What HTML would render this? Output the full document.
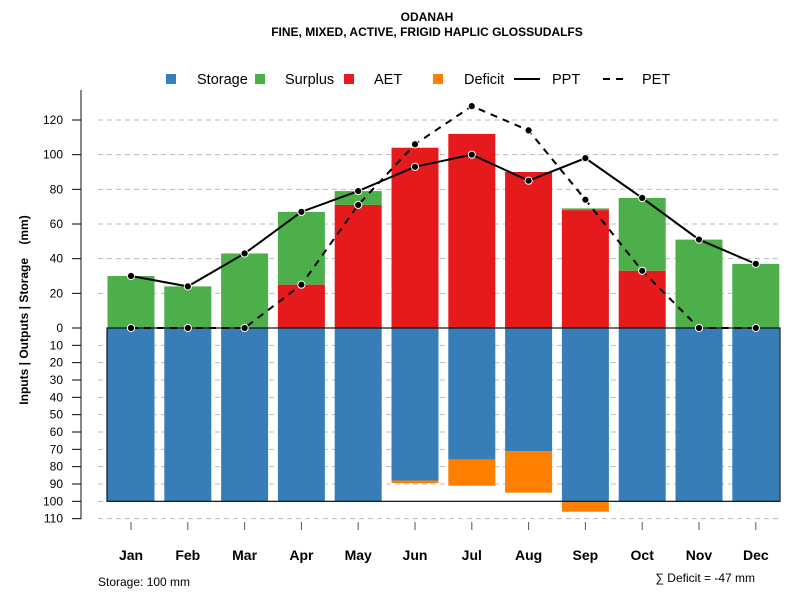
<!DOCTYPE html>
<html><head><meta charset="utf-8"><style>body{margin:0;background:#fff}svg{display:block;font-family:"Liberation Sans",Arial,sans-serif}</style></head>
<body>
<svg id="s" width="800" height="600" xmlns="http://www.w3.org/2000/svg">
<text x="427" y="21" font-size="12" font-weight="bold" text-anchor="middle">ODANAH</text>
<text x="427" y="36" font-size="12" font-weight="bold" text-anchor="middle">FINE, MIXED, ACTIVE, FRIGID HAPLIC GLOSSUDALFS</text>
<g font-size="14.5">
<rect x="166" y="74" width="10" height="10" fill="#377eb8"/><text x="197" y="84">Storage</text>
<rect x="255" y="74" width="10" height="10" fill="#4daf4a"/><text x="285" y="84">Surplus</text>
<rect x="344" y="74" width="10" height="10" fill="#e41a1c"/><text x="374" y="84">AET</text>
<rect x="433" y="74" width="10" height="10" fill="#ff7f00"/><text x="464" y="84">Deficit</text>
<line x1="514" y1="79" x2="540" y2="79" stroke="#000" stroke-width="2"/><text x="552" y="84">PPT</text>
<line x1="603" y1="79" x2="629" y2="79" stroke="#000" stroke-width="2" stroke-dasharray="7,6"/><text x="642" y="84">PET</text>
</g>
<text transform="translate(28,310) rotate(-90)" font-size="12" font-weight="bold" text-anchor="middle" style="white-space:pre" xml:space="preserve">Inputs | Outputs | Storage    (mm)</text>
<text x="98" y="586" font-size="12">Storage: 100 mm</text>
<text x="755" y="582" font-size="12" text-anchor="end">∑ Deficit = -47 mm</text>
<g id="g"></g>
</svg>
<script>
const g=document.getElementById('g');let h='';
const Y=v=>328-v*1.7333, B=v=>328+v*1.7333;
const X=i=>131+i*56.8;
h+='<line x1="81" y1="90" x2="81" y2="519" stroke="#888" stroke-width="2"/>';
for(let v=20;v<=120;v+=20){h+=`<line x1="98" y1="${Y(v)}" x2="780" y2="${Y(v)}" stroke="#bbb" stroke-dasharray="5,4"/><line x1="72" y1="${Y(v)}" x2="81" y2="${Y(v)}" stroke="#000"/><text x="63" y="${Y(v)+4}" font-size="12" text-anchor="end">${v}</text>`;}
h+=`<line x1="72" y1="328" x2="81" y2="328" stroke="#000"/><text x="63" y="332" font-size="12" text-anchor="end">0</text>`;
for(let v=10;v<=110;v+=10){h+=`<line x1="98" y1="${B(v)}" x2="780" y2="${B(v)}" stroke="#bbb" stroke-dasharray="5,4"/><line x1="72" y1="${B(v)}" x2="81" y2="${B(v)}" stroke="#000"/><text x="63" y="${B(v)+4}" font-size="12" text-anchor="end">${v}</text>`;}
const M=['Jan','Feb','Mar','Apr','May','Jun','Jul','Aug','Sep','Oct','Nov','Dec'];
const aet=[0,0,0,25,71,104,112,90,68,33,0,0], tot=[30,24,43,67,79,104,112,90,69,75,51,37];
const st=[100,100,100,100,100,88,76,71,100,100,100,100], def=[[0,0],[0,0],[0,0],[0,0],[0,0],[88,89.5],[76,91],[71,95],[100,106],[0,0],[0,0],[0,0]];
const ppt=[30,24,43,67,79,93,100,85,98,75,51,37], pet=[0,0,0,25,71,106,128,114,74,33,0,0];
for(let i=0;i<12;i++){const x=X(i)-23.5,w=47;
 if(tot[i]>aet[i])h+=`<rect x="${x}" y="${Y(tot[i])}" width="${w}" height="${(tot[i]-aet[i])*1.7333}" fill="#4daf4a"/>`;
 if(aet[i]>0)h+=`<rect x="${x}" y="${Y(aet[i])}" width="${w}" height="${aet[i]*1.7333}" fill="#e41a1c"/>`;
 h+=`<rect x="${x}" y="328" width="${w}" height="${st[i]*1.7333}" fill="#377eb8"/>`;
 if(def[i][1]>0)h+=`<rect x="${x}" y="${B(def[i][0])}" width="${w}" height="${(def[i][1]-def[i][0])*1.7333}" fill="#ff7f00"/>`;
 h+=`<line x1="${X(i)}" y1="522" x2="${X(i)}" y2="530" stroke="#555"/><text x="${X(i)}" y="560" font-size="14" font-weight="bold" text-anchor="middle">${M[i]}</text>`;
}
h+=`<rect x="107" y="328" width="673" height="${100*1.7333}" fill="none" stroke="#111" stroke-width="1.2"/>`;
const pts=a=>a.map((v,i)=>X(i)+','+Y(v)).join(' ');
h+=`<polyline points="${pts(ppt)}" fill="none" stroke="#000" stroke-width="2"/>`;
h+=`<polyline points="${pts(pet)}" fill="none" stroke="#000" stroke-width="2" stroke-dasharray="7,6"/>`;
[ppt,pet].forEach(a=>a.forEach((v,i)=>h+=`<circle cx="${X(i)}" cy="${Y(v)}" r="3.6" fill="#000" stroke="#fff" stroke-width="1"/>`));
g.innerHTML=h;
</script>
</body></html>
